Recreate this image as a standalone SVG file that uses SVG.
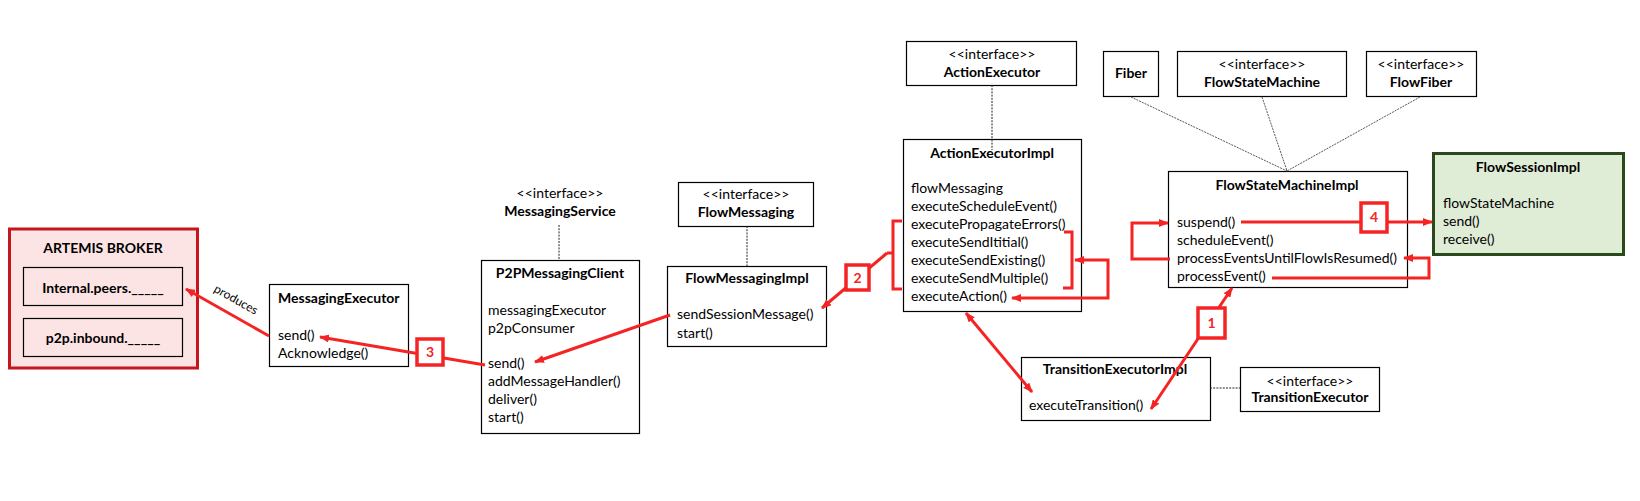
<svg xmlns="http://www.w3.org/2000/svg" width="1640" height="501" viewBox="0 0 1640 501">
<style>
text{font-family:Lato,"Liberation Sans",sans-serif;font-size:14px;fill:#000}
.b{font-weight:bold}
.c{text-anchor:middle}
.box{fill:#fff;stroke:#000;stroke-width:1.2}
.dot{fill:none;stroke:#222;stroke-width:1;stroke-dasharray:2 1.2}
.gl{fill:none;stroke:#555;stroke-width:1;stroke-dasharray:2 1}
.red{fill:none;stroke:#f52424;stroke-width:3}
.num{fill:#fff;stroke:#f52424;stroke-width:3.5}
.nt{fill:#f52424;font-weight:bold;font-size:14px;text-anchor:middle}
</style>
<defs>
<marker id="ah" viewBox="0 0 10 8" refX="9" refY="4" markerWidth="10" markerHeight="8" markerUnits="userSpaceOnUse" orient="auto-start-reverse">
<path d="M0,0 L10,4 L0,8 z" fill="#f52424"/>
</marker>
</defs>

<g id="artemis">
<rect x="9.5" y="229" width="188" height="139" fill="#fde4e4" stroke="#c4161c" stroke-width="3"/>
<text class="b c" x="103" y="253">ARTEMIS BROKER</text>
<rect x="23.5" y="267.5" width="159" height="38" fill="none" stroke="#000" stroke-width="1.2"/>
<text class="b c" x="103" y="293">Internal.peers._____</text>
<rect x="23.5" y="318.5" width="159" height="38" fill="none" stroke="#000" stroke-width="1.2"/>
<text class="b c" x="103" y="343">p2p.inbound._____</text>
</g>

<g id="messagingExecutor">
<rect class="box" x="269.5" y="284.5" width="139" height="82"/>
<text class="b" x="278" y="303">MessagingExecutor</text>
<text x="278" y="340">send()</text>
<text x="278" y="358">Acknowledge()</text>
</g>

<g id="messagingService">
<text class="c" x="560" y="198">&lt;&lt;interface&gt;&gt;</text>
<text class="b c" x="560" y="216">MessagingService</text>
</g>

<g id="p2pMessagingClient">
<rect class="box" x="481.5" y="260.5" width="158" height="173"/>
<text class="b c" x="560" y="278">P2PMessagingClient</text>
<text x="488" y="315">messagingExecutor</text>
<text x="488" y="333">p2pConsumer</text>
<text x="488" y="368">send()</text>
<text x="488" y="386">addMessageHandler()</text>
<text x="488" y="404">deliver()</text>
<text x="488" y="422">start()</text>
</g>

<g id="flowMessaging">
<rect class="box" x="678.5" y="182.5" width="135" height="44"/>
<text class="c" x="746" y="199">&lt;&lt;interface&gt;&gt;</text>
<text class="b c" x="746" y="217">FlowMessaging</text>
</g>

<g id="flowMessagingImpl">
<rect class="box" x="667.5" y="266.5" width="159" height="80"/>
<text class="b c" x="747" y="283">FlowMessagingImpl</text>
<text x="677" y="319">sendSessionMessage()</text>
<text x="677" y="338">start()</text>
</g>

<g id="actionExecutor">
<rect class="box" x="906.5" y="41.5" width="170" height="44"/>
<text class="c" x="992" y="59">&lt;&lt;interface&gt;&gt;</text>
<text class="b c" x="992" y="77">ActionExecutor</text>
</g>

<g id="actionExecutorImpl">
<rect class="box" x="903.5" y="139.5" width="178" height="172"/>
<text class="b c" x="992" y="158">ActionExecutorImpl</text>
<text x="911" y="193">flowMessaging</text>
<text x="911" y="211">executeScheduleEvent()</text>
<text x="911" y="229">executePropagateErrors()</text>
<text x="911" y="247">executeSendItitial()</text>
<text x="911" y="265">executeSendExisting()</text>
<text x="911" y="283">executeSendMultiple()</text>
<text x="911" y="301">executeAction()</text>
</g>

<g id="transitionExecutorImpl">
<rect class="box" x="1021.5" y="357.5" width="189" height="63"/>
<text class="b c" x="1115" y="374">TransitionExecutorImpl</text>
<text x="1029" y="410">executeTransition()</text>
</g>

<g id="transitionExecutor">
<rect class="box" x="1240.5" y="367.5" width="139" height="44"/>
<text class="c" x="1310" y="386">&lt;&lt;interface&gt;&gt;</text>
<text class="b c" x="1310" y="402">TransitionExecutor</text>
</g>

<g id="fiber">
<rect class="box" x="1103.5" y="51.5" width="55" height="45"/>
<text class="b c" x="1131" y="78">Fiber</text>
</g>

<g id="flowStateMachine">
<rect class="box" x="1177.5" y="51.5" width="169" height="45"/>
<text class="c" x="1262" y="69">&lt;&lt;interface&gt;&gt;</text>
<text class="b c" x="1262" y="87">FlowStateMachine</text>
</g>

<g id="flowFiber">
<rect class="box" x="1366.5" y="51.5" width="110" height="45"/>
<text class="c" x="1421" y="69">&lt;&lt;interface&gt;&gt;</text>
<text class="b c" x="1421" y="87">FlowFiber</text>
</g>

<g id="flowStateMachineImpl">
<rect class="box" x="1168.5" y="171.5" width="239" height="116"/>
<text class="b c" x="1287" y="190">FlowStateMachineImpl</text>
<text x="1177" y="227">suspend()</text>
<text x="1177" y="245">scheduleEvent()</text>
<text x="1177" y="263">processEventsUntilFlowIsResumed()</text>
<text x="1177" y="281">processEvent()</text>
</g>

<g id="flowSessionImpl">
<rect x="1433.5" y="153.5" width="190" height="101" fill="#dfecd6" stroke="#2b4a1c" stroke-width="3"/>
<text class="b c" x="1528" y="172">FlowSessionImpl</text>
<text x="1443" y="208">flowStateMachine</text>
<text x="1443" y="226">send()</text>
<text x="1443" y="244">receive()</text>
</g>

<g id="connectors">
<line class="dot" x1="559" y1="225" x2="559" y2="260"/>
<line class="dot" x1="747" y1="226" x2="747" y2="266"/>
<line class="dot" x1="992" y1="85" x2="992" y2="150"/>
<line class="dot" x1="1210" y1="388" x2="1240" y2="388"/>
<line class="gl" x1="1131" y1="97" x2="1287" y2="171"/>
<line class="gl" x1="1262" y1="97" x2="1287" y2="171"/>
<line class="gl" x1="1420" y1="97" x2="1287" y2="171"/>
<line class="red" x1="269" y1="336" x2="186" y2="289" marker-end="url(#ah)"/>
<text transform="translate(234,303) rotate(29.5)" text-anchor="middle" style="font-size:12px">produces</text>
<line class="red" x1="485" y1="365" x2="320" y2="337" marker-end="url(#ah)"/>
<line class="red" x1="670" y1="315" x2="535" y2="362" marker-end="url(#ah)"/>
<path class="red" d="M902,221 L893,221 L893,289 L902,289 M893,253 L887,253"/>
<line class="red" x1="887" y1="253" x2="822" y2="308" marker-end="url(#ah)"/>
<path class="red" d="M1064,232 L1072,232 L1072,288 L1063,288"/>
<path class="red" d="M1075,260 L1108,260 L1108,298 L1012,298" marker-start="url(#ah)" marker-end="url(#ah)"/>
<line class="red" x1="966" y1="313" x2="1032" y2="392" marker-start="url(#ah)" marker-end="url(#ah)"/>
<line class="red" x1="1232" y1="288" x2="1151" y2="409" marker-start="url(#ah)" marker-end="url(#ah)"/>
<line class="red" x1="1241" y1="222" x2="1432" y2="222" marker-end="url(#ah)"/>
<path class="red" d="M1170,259 L1132,259 L1132,223 L1168,223" marker-end="url(#ah)"/>
<path class="red" d="M1272,278 L1429,278 L1429,258 L1404,258" marker-end="url(#ah)"/>
</g>

<g id="step1"><rect class="num" x="1198" y="308" width="27" height="30"/><text class="nt" x="1211.5" y="328">1</text></g>
<g id="step2"><rect class="num" x="846" y="265" width="23" height="25"/><text class="nt" x="857.5" y="283">2</text></g>
<g id="step3"><rect class="num" x="417" y="339" width="26" height="26"/><text class="nt" x="430" y="357">3</text></g>
<g id="step4"><rect class="num" x="1361" y="203" width="26" height="29"/><text class="nt" x="1374" y="222">4</text></g>
</svg>
